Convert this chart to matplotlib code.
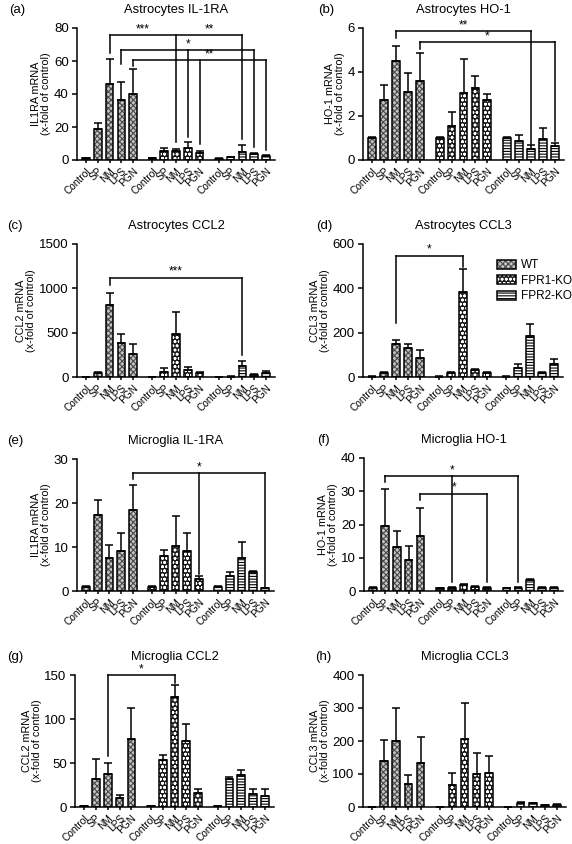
import numpy as np
import matplotlib
matplotlib.use('Agg')
import matplotlib.pyplot as plt
from matplotlib.patches import Patch

plt.rcParams['font.family'] = ['Liberation Sans', 'DejaVu Sans']
plt.rcParams['hatch.linewidth'] = 0.8

conditions = ['Control', 'SP', 'NM', 'LPS', 'PGN']
genotypes = ['WT', 'FPR1-KO', 'FPR2-KO']

# means and SEM, one row per genotype (WT, FPR1-KO, FPR2-KO)
astro_il1ra_mean = [[1, 18.5, 45.8, 36.5, 40.3], [1, 5.2, 5.4, 7.5, 4.4], [0.8, 1.6, 4.8, 3.8, 2.6]]
astro_il1ra_sem = [[0.2, 4, 15.4, 10.5, 14.7], [0.2, 1.8, 1.1, 3.4, 1.0], [0.2, 0.5, 4.2, 0.6, 0.5]]

astro_ho1_mean = [[1, 2.72, 4.5, 3.07, 3.57], [1, 1.55, 3.05, 3.27, 2.72], [1, 0.88, 0.52, 0.95, 0.63]]
astro_ho1_sem = [[0.03, 0.68, 0.7, 0.9, 1.3], [0.03, 0.63, 1.55, 0.55, 0.3], [0.03, 0.27, 0.14, 0.5, 0.15]]

astro_ccl2_mean = [[1, 40, 810, 385, 255], [1, 62, 490, 82, 45], [1, 5, 122, 28, 50]]
astro_ccl2_sem = [[0, 12, 140, 105, 120], [0, 38, 240, 33, 15], [0, 3, 55, 10, 18]]

astro_ccl3_mean = [[2, 17, 150, 133, 85], [2, 16, 385, 30, 20], [2, 42, 183, 20, 60]]
astro_ccl3_sem = [[0.5, 4, 18, 17, 38], [0.5, 5, 100, 5, 4], [0.5, 16, 57, 4, 22]]

micro_il1ra_mean = [[1, 17.2, 7.5, 9.1, 18.3], [1, 8, 10.2, 9, 2.7], [1, 3.3, 7.6, 4.3, 0.6]]
micro_il1ra_sem = [[0.1, 3.5, 2.9, 4.0, 5.7], [0.1, 1.4, 6.8, 4.2, 0.6], [0.1, 1.1, 3.6, 0.2, 0.1]]

micro_ho1_mean = [[1, 19.6, 13.2, 9.3, 16.6], [0.8, 0.9, 1.7, 1.2, 1.0], [0.9, 1.0, 3.3, 1.0, 0.9]]
micro_ho1_sem = [[0.1, 11.1, 4.8, 4.3, 8.4], [0.1, 0.2, 0.3, 0.2, 0.3], [0.1, 0.2, 0.3, 0.1, 0.2]]

micro_ccl2_mean = [[1, 32, 38, 10, 77], [1, 53, 125, 75, 16], [1, 32, 36, 15, 12]]
micro_ccl2_sem = [[0.3, 23, 12, 4, 36], [0.3, 6, 14, 19, 4], [0.3, 2, 6, 6, 9]]

micro_ccl3_mean = [[1, 140, 200, 70, 132], [1, 66, 205, 100, 103], [1, 13, 12, 6, 6]]
micro_ccl3_sem = [[0.5, 64, 100, 28, 80], [0.5, 36, 110, 63, 52], [0.5, 2, 1, 1, 2]]

# significance brackets: (level, [(bar index, lower end)], [(stars, bar i, bar j)])
astro_il1ra_sig = [(75.5, [(2, 65), (7, 11), (12, 13)], [('***', 2, 7), ('**', 7, 12)]),
                   (66.7, [(3, 58), (8, 14), (13, 8)], [('*', 3, 13)]),
                   (60.6, [(4, 57), (9, 10), (14, 6)], [('**', 7, 12)])]
astro_ho1_sig = [(5.85, [(2, 5.55), (12, 0.71)], [('**', 2, 12)]),
                 (5.35, [(4, 5.05), (14, 0.85)], [('*', 4, 14)])]
astro_ccl2_sig = [(1122, [(2, 1040), (12, 253)], [('***', 2, 12)])]
astro_ccl3_sig = [(547, [(2, 245), (7, 497)], [('*', 2, 7)])]
micro_il1ra_sig = [(26.8, [(4, 25.5), (9, 3.9), (14, 0.9)], [('*', 4, 14)])]
micro_ho1_sig = [(34.5, [(1, 32.7), (6, 2.8), (11, 2.8)], [('*', 1, 11)]),
                 (29.2, [(4, 27.5), (9, 2.6)], [('*', 4, 9)])]
micro_ccl2_sig = [(149.6, [(2, 58), (7, 141)], [('*', 2, 7)])]
micro_ccl3_sig = []

pos = [g * 5.65 + i for g in range(3) for i in range(5)]
faces = ['#c4c4c4', '#1a1a1a', 'white']
hatch_cols = ['#4a4a4a', 'white', 'black']
hatches = ['xxxxxx', 'oooo', '------']


def draw_panel(ax, mean, sem, ymax, ystep, title, ylabel, sig):
    for g in range(3):
        x = pos[g * 5:(g + 1) * 5]
        ax.bar(x, mean[g], width=0.65, facecolor=faces[g], edgecolor=hatch_cols[g],
               hatch=hatches[g], linewidth=0)
        ax.bar(x, mean[g], width=0.65, fill=False, edgecolor='black', linewidth=1.1)
        ax.errorbar(x, mean[g], yerr=[np.zeros(5), sem[g]], fmt='none', ecolor='black',
                    elinewidth=1.1, capsize=2.6, capthick=1.1)
    for level, drops, stars in sig:
        xs = [pos[i] for i, _ in drops]
        ax.plot([min(xs), max(xs)], [level, level], color='black', lw=1.1, clip_on=False,
                solid_capstyle='projecting')
        for i, low in drops:
            ax.plot([pos[i], pos[i]], [low, level], color='black', lw=1.1, clip_on=False,
                    solid_capstyle='projecting')
        for txt, i, j in stars:
            ax.text((pos[i] + pos[j]) / 2, level, txt, ha='center', va='bottom', fontsize=8.5)
    ax.set_xlim(-0.77, pos[-1] + 0.77)
    ax.set_ylim(0, ymax)
    ax.set_yticks(np.arange(0, ymax + ystep / 2, ystep))
    ax.set_xticks(pos)
    ax.set_xticklabels(conditions * 3, rotation=45, ha='right', rotation_mode='anchor', fontsize=7.3)
    ax.tick_params(axis='y', labelsize=9.5, length=3.5, width=1.1, pad=2.5)
    ax.tick_params(axis='x', length=2.5, width=1.1, pad=2)
    for s in ['top', 'right']:
        ax.spines[s].set_visible(False)
    for s in ['left', 'bottom']:
        ax.spines[s].set_linewidth(1.1)
    ax.set_ylabel(ylabel + '\n(x-fold of control)', fontsize=7.8, linespacing=1.0, labelpad=2)
    ax.annotate(title, xy=(0.5, 1), xycoords='axes fraction', xytext=(0, 13),
                textcoords='offset points', ha='center', va='center', fontsize=9.3)


fig = plt.figure(figsize=(5.72, 8.44), dpi=100)
W, H = 572, 844
# axes boxes in pixels: left, right, top, bottom
boxes = [(77, 275, 28, 160), (363, 564, 28, 160),
         (77, 275, 244, 377), (363, 563, 244, 377),
         (77, 274, 459, 591), (364, 563, 458, 591),
         (75, 274, 675, 807), (363, 566, 675, 807)]
letter_x = [17, 326, 15, 324, 15, 323, 15, 323]
axes = []
for (l, r, t, b) in boxes:
    axes.append(fig.add_axes([l / W, 1 - b / H, (r - l) / W, (b - t) / H]))

panels = [
    (astro_il1ra_mean, astro_il1ra_sem, 80, 20, 'Astrocytes IL-1RA', 'IL1RA mRNA', astro_il1ra_sig, '(a)'),
    (astro_ho1_mean, astro_ho1_sem, 6, 2, 'Astrocytes HO-1', 'HO-1 mRNA', astro_ho1_sig, '(b)'),
    (astro_ccl2_mean, astro_ccl2_sem, 1500, 500, 'Astrocytes CCL2', 'CCL2 mRNA', astro_ccl2_sig, '(c)'),
    (astro_ccl3_mean, astro_ccl3_sem, 600, 200, 'Astrocytes CCL3', 'CCL3 mRNA', astro_ccl3_sig, '(d)'),
    (micro_il1ra_mean, micro_il1ra_sem, 30, 10, 'Microglia IL-1RA', 'IL1RA mRNA', micro_il1ra_sig, '(e)'),
    (micro_ho1_mean, micro_ho1_sem, 40, 10, 'Microglia HO-1', 'HO-1 mRNA', micro_ho1_sig, '(f)'),
    (micro_ccl2_mean, micro_ccl2_sem, 150, 50, 'Microglia CCL2', 'CCL2 mRNA', micro_ccl2_sig, '(g)'),
    (micro_ccl3_mean, micro_ccl3_sem, 400, 100, 'Microglia CCL3', 'CCL3 mRNA', micro_ccl3_sig, '(h)'),
]
for ax, p, lx, box in zip(axes, panels, letter_x, boxes):
    mean, sem, ymax, ystep, title, ylabel, sig, letter = p
    draw_panel(ax, mean, sem, ymax, ystep, title, ylabel, sig)
    fig.text(lx / W, 1 - (box[2] - 18) / H, letter, ha='center', va='center', fontsize=9.5)

handles = []
for g in range(3):
    handles.append((Patch(facecolor=faces[g], edgecolor=hatch_cols[g], hatch=hatches[g], linewidth=0),
                    Patch(fill=False, edgecolor='black', linewidth=1.1)))
axes[3].legend(handles, genotypes, loc='upper left', bbox_to_anchor=(0.645, 0.92), frameon=False,
               fontsize=8.5, handlelength=1.6, handleheight=0.75, handletextpad=0.45,
               labelspacing=0.3, borderaxespad=0)

fig.savefig('out.png', dpi=100)
